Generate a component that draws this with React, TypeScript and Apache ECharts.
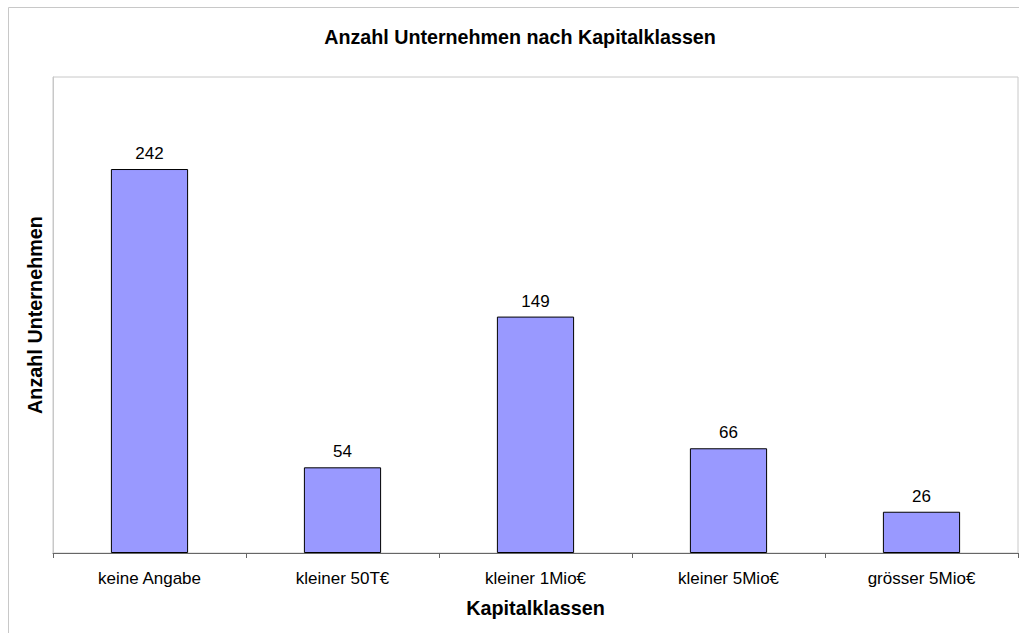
import React, { useEffect, useRef } from "react";
import * as echarts from "echarts";

const categories = ["keine Angabe", "kleiner 50T€", "kleiner 1Mio€", "kleiner 5Mio€", "grösser 5Mio€"];
const counts = [242, 54, 149, 66, 26];
const titleText = "Anzahl Unternehmen nach Kapitalklassen";
const xAxisName = "Kapitalklassen";
const yAxisName = "Anzahl Unternehmen";

const FONT = "'Liberation Sans', Arial, sans-serif";

export default function App() {
  const ref = useRef<HTMLDivElement>(null);
  useEffect(() => {
    if (!ref.current) return;
    const chart = echarts.init(ref.current, null, { renderer: "svg" });
    chart.setOption({
      animation: false,
      backgroundColor: "#ffffff",
      title: {
        text: titleText,
        left: 515,
        top: 22,
        textAlign: "center",
        textStyle: { fontFamily: FONT, fontSize: 19.7, fontWeight: "bold", color: "#000" },
      },
      graphic: [
        {
          type: "rect",
          shape: { x: 8.5, y: 7.5, width: 1030, height: 640 },
          style: { fill: "none", stroke: "#c8c8c8", lineWidth: 1 },
          silent: true,
        },
      ],
      grid: {
        left: 53,
        top: 77,
        width: 965,
        height: 476,
        show: true,
        borderColor: "#c8c8c8",
        borderWidth: 1,
        backgroundColor: "#ffffff",
      },
      xAxis: {
        type: "category",
        data: categories,
        boundaryGap: true,
        name: xAxisName,
        nameLocation: "middle",
        nameGap: 45,
        nameTextStyle: { fontFamily: FONT, fontSize: 19.8, fontWeight: "bold", color: "#000" },
        axisLine: { show: true, lineStyle: { color: "#666666", width: 1 } },
        axisTick: { show: true, length: 5, lineStyle: { color: "#666666" } },
        axisLabel: { fontFamily: FONT, fontSize: 17, color: "#000", margin: 17 },
        splitLine: { show: false },
      },
      yAxis: {
        type: "value",
        min: 0,
        max: 300,
        name: yAxisName,
        nameLocation: "middle",
        nameGap: 8,
        nameRotate: 90,
        nameTextStyle: { fontFamily: FONT, fontSize: 19.8, fontWeight: "bold", color: "#000" },
        axisLine: { show: true, lineStyle: { color: "#c8c8c8" } },
        axisTick: { show: false },
        axisLabel: { show: false },
        splitLine: { show: false },
      },
      series: [
        {
          type: "bar",
          data: counts,
          barWidth: "40%",
          itemStyle: { color: "#9999FF", borderColor: "#000000", borderWidth: 1 },
          label: {
            show: true,
            position: "top",
            distance: 7,
            fontFamily: FONT,
            fontSize: 17,
            color: "#000",
          },
        },
      ],
    });
    return () => chart.dispose();
  }, []);
  return (
    <div
      ref={ref}
      style={{ position: "fixed", left: 0, top: 0, width: 1019, height: 633 }}
    />
  );
}
